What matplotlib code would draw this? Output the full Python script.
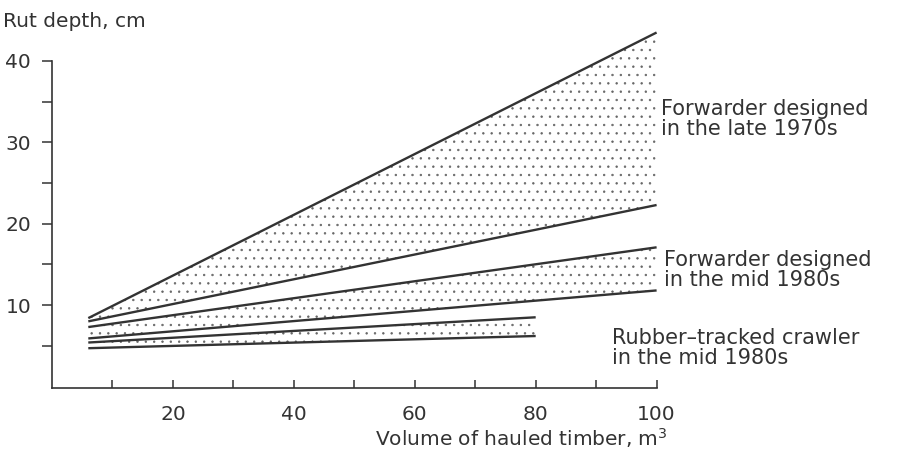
import matplotlib
matplotlib.use("Agg")
import matplotlib.pyplot as plt
import numpy as np

plt.rcParams["hatch.linewidth"] = 0.5
plt.rcParams["hatch.color"] = "#666666"

# Rut depth (cm) at start and end of each band
late70_x = [6, 100]
late70_hi = [8.4, 43.5]
late70_lo = [8.0, 22.3]

mid80_x = [6, 100]
mid80_hi = [7.3, 17.1]
mid80_lo = [5.9, 11.8]

crawler_x = [6, 80]
crawler_hi = [5.4, 8.5]
crawler_lo = [4.7, 6.2]

band_labels = [
    "Forwarder designed\nin the late 1970s",
    "Forwarder designed\nin the mid 1980s",
    "Rubber\u2013tracked crawler\nin the mid 1980s",
]

ink = "#333333"
font = "DejaVu Sans"
fs = 14.5

fig = plt.figure(figsize=(8.97, 4.62), dpi=100)
ax = fig.add_axes([0.058, 0.160, 0.674, 0.708])

for xs, hi, lo in [(late70_x, late70_hi, late70_lo),
                   (mid80_x, mid80_hi, mid80_lo),
                   (crawler_x, crawler_hi, crawler_lo)]:
    ax.fill_between(xs, lo, hi, facecolor="none", edgecolor="#666666",
                    hatch="..", linewidth=0, clip_on=False)
    ax.plot(xs, hi, color=ink, lw=1.7, solid_capstyle="butt", clip_on=False)
    ax.plot(xs, lo, color=ink, lw=1.7, solid_capstyle="butt", clip_on=False)

ax.set_xlim(0, 100)
ax.set_ylim(-0.2, 40)
for s in ["top", "right"]:
    ax.spines[s].set_visible(False)
for s in ["left", "bottom"]:
    ax.spines[s].set_color(ink)
    ax.spines[s].set_linewidth(1.2)

ax.set_xticks([20, 40, 60, 80, 100])
ax.set_xticks([10, 30, 50, 70, 90], minor=True)
ax.set_yticks([10, 20, 30, 40])
ax.set_yticks([5, 15, 25, 35], minor=True)
ax.tick_params(axis="x", which="both", direction="in", length=6, width=1.1,
               color=ink, labelsize=fs, labelcolor=ink, pad=12)
ax.tick_params(axis="y", which="both", direction="out", length=7, width=1.1,
               color=ink, labelsize=fs, labelcolor=ink, pad=8)
for lab in ax.get_xticklabels() + ax.get_yticklabels():
    lab.set_family(font)

fig.text(0.003, 0.975, "Rut depth, cm", ha="left", va="top",
         fontsize=fs, color=ink, family=font)
fig.text(0.581, 0.025, "Volume of hauled timber, m$^3$", ha="center",
         va="bottom", fontsize=fs, color=ink, family=font)

ax.text(100.8, 32.9, band_labels[0], ha="left", va="center",
        fontsize=15, color=ink, family=font, linespacing=1.0,
        clip_on=False)
ax.text(101.3, 14.3, band_labels[1], ha="left", va="center",
        fontsize=15, color=ink, family=font, linespacing=1.0,
        clip_on=False)
ax.text(92.6, 4.7, band_labels[2], ha="left", va="center",
        fontsize=15, color=ink, family=font, linespacing=1.0,
        clip_on=False)

fig.savefig("out.png", dpi=100)
